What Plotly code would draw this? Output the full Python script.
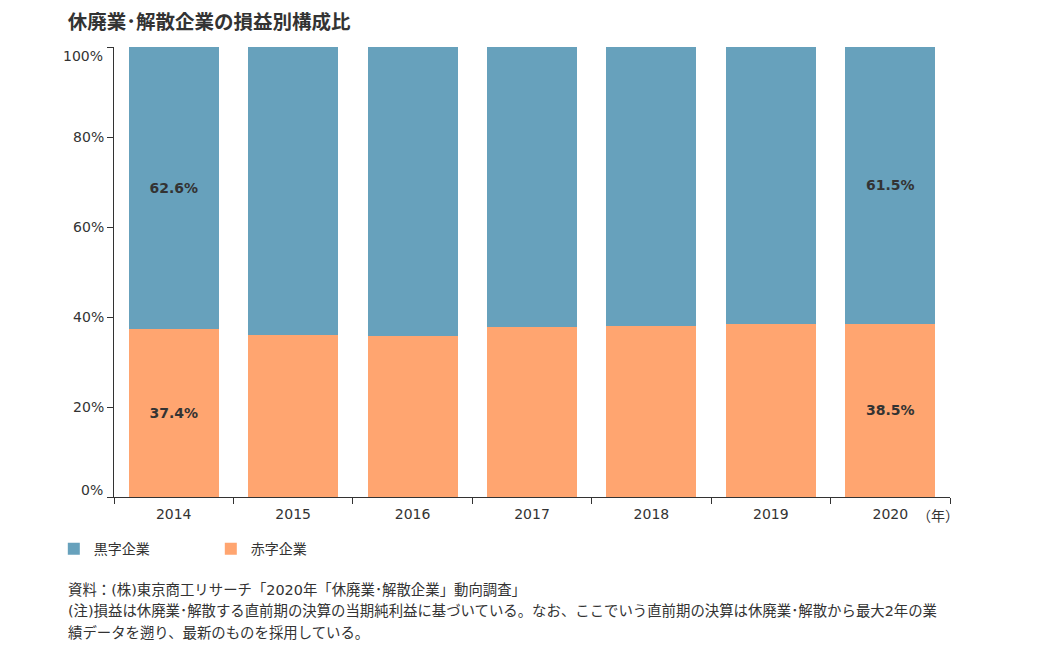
import plotly.graph_objects as go

# 休廃業・解散企業の損益別構成比 (%)
years = ["2014", "2015", "2016", "2017", "2018", "2019", "2020"]
red_share = [37.4, 36.0, 35.8, 37.8, 38.0, 38.4, 38.5]     # 赤字企業
black_share = [round(100 - v, 1) for v in red_share]       # 黒字企業
label_years = ["2014", "2020"]                              # 数値を表示する年

y_ticks = [0, 20, 40, 60, 80, 100]
y_tick_text = [f"{t}%" for t in y_ticks]

notes = [
    "資料：(株)東京商工リサーチ「2020年「休廃業･解散企業」動向調査」",
    "(注)損益は休廃業･解散する直前期の決算の当期純利益に基づいている。なお、ここでいう直前期の決算は休廃業･解散から最大2年の業",
    "績データを遡り、最新のものを採用している。",
]

FONT = "Verdana, DejaVu Sans, Noto Sans CJK JP, sans-serif"
BLUE = "#67a1bc"
ORANGE = "#ffa570"
TXT = "#333333"


def labels(values):
    return [f"{v:.1f}%" if y in label_years else "" for y, v in zip(years, values)]


fig = go.Figure()

fig.add_trace(go.Bar(x=years, y=red_share, name="赤字企業",
                     marker=dict(color=ORANGE, line=dict(width=0)),
                     text=labels(red_share), textposition="inside",
                     insidetextanchor="middle",
                     textfont=dict(family=FONT, size=14, color=TXT, weight="bold"),
                     legendrank=2, hoverinfo="x+y"))

fig.add_trace(go.Bar(x=years, y=black_share, name="黒字企業",
                     marker=dict(color=BLUE, line=dict(width=0)),
                     text=labels(black_share), textposition="inside",
                     insidetextanchor="middle",
                     textfont=dict(family=FONT, size=14, color=TXT, weight="bold"),
                     legendrank=1, hoverinfo="x+y"))

# the page adds an 8px body margin, so the figure is drawn 8px smaller
fig.update_layout(
    barmode="stack",
    bargap=0.246,
    width=1029, height=662,
    margin=dict(l=106, r=87, t=39, b=173),
    paper_bgcolor="white", plot_bgcolor="white",
    font=dict(family=FONT, size=14, color=TXT),
    title=dict(text="<b>休廃業･解散企業の損益別構成比</b>",
               font=dict(family=FONT, size=19.5, color=TXT),
               xref="container", x=0.058, xanchor="left",
               yref="container", y=0.979, yanchor="middle"),
    showlegend=True,
    legend=dict(orientation="h", x=-0.072, xanchor="left",
                y=-0.116, yanchor="middle",
                font=dict(family=FONT, size=14, color=TXT),
                entrywidth=112, itemwidth=30, traceorder="normal"),
    uniformtext=dict(mode="show", minsize=10),
)

fig.update_xaxes(showline=True, linecolor=TXT, linewidth=1,
                 ticks="outside", tickson="boundaries", ticklen=6,
                 tickcolor=TXT, showgrid=False, ticklabelstandoff=4,
                 tickfont=dict(family=FONT, size=14, color=TXT))

# end labels (0% / 100%) are pulled inside the axis span, as in the original
inner_ticks = y_ticks[1:-1]
fig.update_yaxes(range=[0, 100], tickvals=y_ticks,
                 ticktext=[t if v in inner_ticks else "" for v, t in zip(y_ticks, y_tick_text)],
                 showline=True, linecolor=TXT, linewidth=1,
                 ticks="outside", ticklen=6, tickcolor=TXT,
                 showgrid=False, zeroline=False,
                 tickfont=dict(family=FONT, size=14, color=TXT))

for v, t in zip(y_ticks, y_tick_text):
    if v in inner_ticks:
        continue
    fig.add_annotation(text=t, xref="paper", yref="y", x=0, y=v,
                       xanchor="right", yanchor="middle", xshift=-9,
                       yshift=-9 if v == max(y_ticks) else 7,
                       showarrow=False, font=dict(family=FONT, size=14, color=TXT))

fig.add_annotation(text="（年）", xref="paper", yref="paper",
                   x=0.958, xanchor="left", y=-0.043, yanchor="middle",
                   showarrow=False, font=dict(family=FONT, size=14, color=TXT))

for i, line in enumerate(notes):
    fig.add_annotation(text=line, xref="paper", yref="paper",
                       x=-0.0575, xanchor="left",
                       y=-0.207 - i * 0.047, yanchor="middle",
                       showarrow=False, align="left",
                       font=dict(family=FONT, size=14.4, color=TXT))

fig.write_html("out.html")
